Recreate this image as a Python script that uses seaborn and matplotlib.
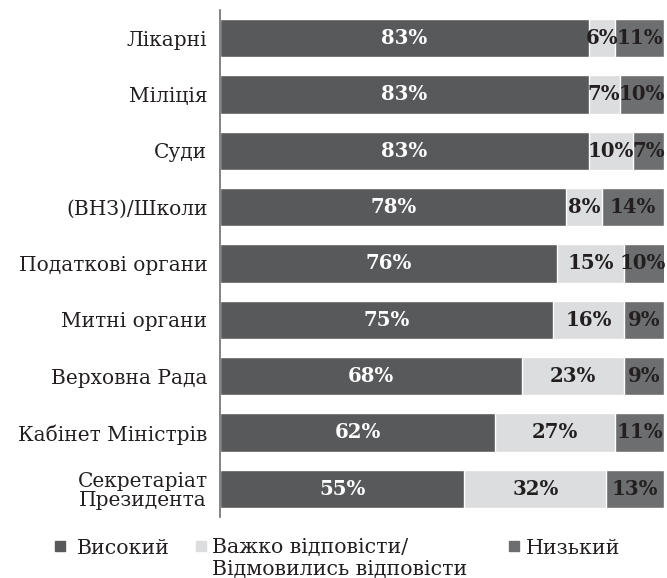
import pandas as pd
import seaborn as sns
import matplotlib.pyplot as plt
from matplotlib.lines import Line2D

institutions = ["Лікарні", "Міліція", "Суди", "(ВНЗ)/Школи", "Податкові органи",
                "Митні органи", "Верховна Рада", "Кабінет Міністрів",
                "Секретаріат\nПрезидента"]
high = [83, 83, 83, 78, 76, 75, 68, 62, 55]
hard = [6, 7, 10, 8, 15, 16, 23, 27, 32]
low = [11, 10, 7, 14, 10, 9, 9, 11, 13]

series_names = ["Високий", "Важко відповісти/", "Низький"]
second_line = "Відмовились відповісти"
colors = ["#58595b", "#dcdddf", "#6d6e70"]

df = pd.DataFrame({"inst": institutions, "high": high, "hard": hard, "low": low})
df["mid_cum"] = df["high"] + df["hard"]
df["total"] = df["mid_cum"] + df["low"]

sns.set_theme(style="white")
plt.rcParams["font.family"] = ["DejaVu Serif"]

fig, ax = plt.subplots(figsize=(6.67, 5.78), dpi=100)
fig.subplots_adjust(left=0.33, right=0.9955, top=0.983, bottom=0.1055)

sns.barplot(data=df, y="inst", x="total", color=colors[2], width=0.68,
            saturation=1, ax=ax, orient="h")
sns.barplot(data=df, y="inst", x="mid_cum", color=colors[1], width=0.68,
            saturation=1, ax=ax, orient="h")
sns.barplot(data=df, y="inst", x="high", color=colors[0], width=0.68,
            saturation=1, ax=ax, orient="h")

ax.set_xlim(0, 100)
ax.set_ylim(len(institutions) - 0.5, -0.5)

fs = 14.8
lfs = 14.5
bfs = 14.2
for i, row in df.iterrows():
    ax.text(row["high"] / 2, i, f"{row['high']}%", ha="center", va="center",
            color="white", fontsize=bfs, fontweight="bold")
    ax.text(row["high"] + row["hard"] / 2, i, f"{row['hard']}%", ha="center",
            va="center", color="#231f20", fontsize=bfs, fontweight="bold")
    ax.text(min(row["mid_cum"] + row["low"] / 2, 100 - row["low"] / 2 + 0.3), i,
            f"{row['low']}%", ha="center", va="center", color="#231f20",
            fontsize=bfs, fontweight="bold")

ax.set_xlabel("")
ax.set_ylabel("")
ax.set_xticks([])
ax.tick_params(axis="y", length=0, pad=9, labelsize=lfs, labelcolor="#231f20")
for lbl in ax.get_yticklabels():
    lbl.set_multialignment("center")
    lbl.set_linespacing(1.0)
for s in ["top", "right", "bottom"]:
    ax.spines[s].set_visible(False)
ax.spines["left"].set_color("#6d6e70")
ax.spines["left"].set_linewidth(1.2)
ax.set_yticks([i + 0.5 for i in range(-1, len(institutions))], minor=True)
ax.tick_params(axis="y", which="minor", length=5, direction="out",
               color="#231f20", width=1.2)

# legend: one entry per legend so each can sit where the reference has it
leg_y = 1 - 548 / 578
leg_spots = [(55, 0.58), (196, 0.3), (509, 0.3)]
legends = []
for name, c, (x0, pad) in zip(series_names, colors, leg_spots):
    h = Line2D([], [], marker="s", linestyle="", markersize=7.5,
               markerfacecolor=c, markeredgecolor=c)
    leg = fig.legend([h], [name], loc="center left",
                     bbox_to_anchor=(x0 / 667, leg_y), frameon=False,
                     fontsize=fs, handletextpad=pad, handlelength=0.5,
                     borderpad=0, borderaxespad=0, labelcolor="#231f20")
    legends.append(leg)

fig.canvas.draw()
bb = legends[1].get_texts()[0].get_window_extent().transformed(fig.transFigure.inverted())
fig.text(bb.x0, bb.y0 - 0.004, second_line, ha="left", va="top",
         fontsize=fs, color="#231f20")

fig.savefig("out.png", dpi=100)
